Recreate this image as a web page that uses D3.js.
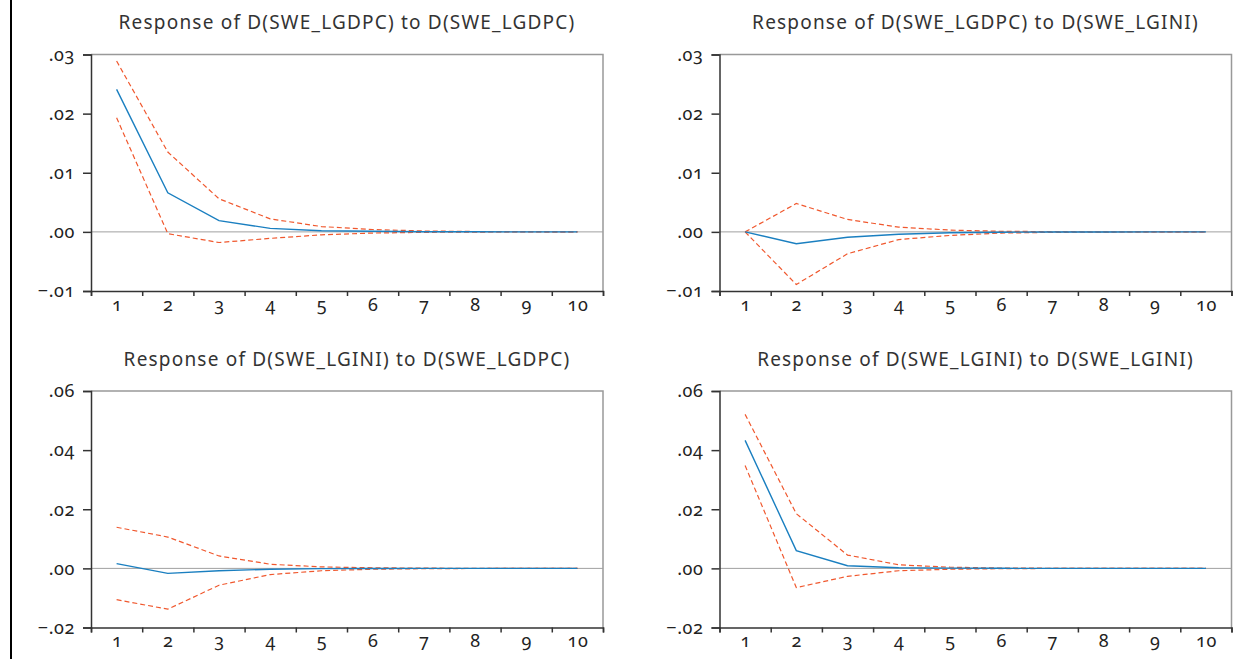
<!DOCTYPE html>
<html>
<head>
<meta charset="utf-8">
<script src="https://cdn.jsdelivr.net/npm/d3@7"></script>
<style>
    body { margin: 0; background: #fff; }
    svg text { font-family: "Noto Sans", sans-serif; font-variant-numeric: oldstyle-nums; fill: #222; }
</style>
</head>
<body>
<script>
const width = 1248;
const height = 659;

const periods = [1, 2, 3, 4, 5, 6, 7, 8, 9, 10];

const titles = [
    "Response of D(SWE_LGDPC) to D(SWE_LGDPC)",
    "Response of D(SWE_LGDPC) to D(SWE_LGINI)",
    "Response of D(SWE_LGINI) to D(SWE_LGDPC)",
    "Response of D(SWE_LGINI) to D(SWE_LGINI)"
];

const yTicksTop = [-0.01, 0.00, 0.01, 0.02, 0.03];
const yTicksBottom = [-0.02, 0.00, 0.02, 0.04, 0.06];

// GDPC -> GDPC
const resp1 = [0.0241, 0.0066, 0.0019, 0.0006, 0.0002, 0.0001, 0.00003, 0.00001, 0, 0];
const upper1 = [0.0289, 0.0135, 0.0056, 0.0022, 0.0009, 0.0004, 0.00015, 0.00006, 0.00002, 0.00001];
const lower1 = [0.0193, -0.0003, -0.0018, -0.0011, -0.0005, -0.0002, -0.00008, -0.00003, -0.00001, 0];

// GDPC -> GINI
const resp2 = [0, -0.0020, -0.0009, -0.0004, -0.00015, -0.00006, -0.00002, -0.00001, 0, 0];
const upper2 = [0, 0.0048, 0.0021, 0.0008, 0.0003, 0.0001, 0.00004, 0.00001, 0, 0];
const lower2 = [0, -0.0089, -0.0037, -0.0013, -0.0006, -0.0002, -0.00008, -0.00003, -0.00001, 0];

// GINI -> GDPC
const resp3 = [0.0016, -0.0017, -0.0008, -0.0003, -0.0001, -0.00004, -0.00001, 0, 0, 0];
const upper3 = [0.0139, 0.0106, 0.0042, 0.0014, 0.0005, 0.0002, 0.00007, 0.00002, 0.00001, 0];
const lower3 = [-0.0106, -0.0138, -0.0057, -0.0021, -0.0008, -0.0003, -0.0001, -0.00004, -0.00001, 0];

// GINI -> GINI
const resp4 = [0.0433, 0.0060, 0.0009, 0.0002, 0.0001, 0.00002, 0, 0, 0, 0];
const upper4 = [0.0521, 0.0185, 0.0045, 0.0012, 0.0004, 0.0001, 0.00004, 0.00001, 0, 0];
const lower4 = [0.0348, -0.0065, -0.0027, -0.0008, -0.0003, -0.0001, -0.00003, -0.00001, 0, 0];

const panels = [
    {title: titles[0], resp: resp1, upper: upper1, lower: lower1, ticks: yTicksTop, left: 91, top: 54.5, bottom: 291},
    {title: titles[1], resp: resp2, upper: upper2, lower: lower2, ticks: yTicksTop, left: 719.5, top: 54.5, bottom: 291},
    {title: titles[2], resp: resp3, upper: upper3, lower: lower3, ticks: yTicksBottom, left: 91, top: 391, bottom: 627.5},
    {title: titles[3], resp: resp4, upper: upper4, lower: lower4, ticks: yTicksBottom, left: 719.5, top: 391, bottom: 627.5}
];

const plotW = 512;

const svg = d3.select("body")
    .append("svg")
    .attr("width", width)
    .attr("height", height);

// black bar on the left edge
svg.append("rect")
    .attr("x", 10)
    .attr("y", 0)
    .attr("width", 2)
    .attr("height", height)
    .attr("fill", "#000");

const fmt = v => d3.format(".2f")(v).replace("0.", ".");

panels.forEach(p => {
    const h = p.bottom - p.top;
    const g = svg.append("g")
        .attr("transform", `translate(${p.left},${p.top})`);

    const x = d3.scaleLinear().domain([0.5, 10.5]).range([0, plotW]);
    const y = d3.scaleLinear().domain(d3.extent(p.ticks)).range([h, 0]);

    // top and right frame
    g.append("path")
        .attr("d", `M0,0H${plotW}V${h}`)
        .attr("fill", "none")
        .attr("stroke", "#999")
        .attr("stroke-width", 1.5);

    // zero line
    g.append("line")
        .attr("x1", 0).attr("x2", plotW)
        .attr("y1", y(0)).attr("y2", y(0))
        .attr("stroke", "#a0a0a0")
        .attr("stroke-width", 1);

    // y axis
    const yAxis = g.append("g")
        .call(d3.axisLeft(y).tickValues(p.ticks).tickSize(8).tickPadding(8).tickFormat(fmt));
    yAxis.selectAll("text")
        .style("font-size", "18px")
        .style("letter-spacing", "0.6px");

    // x boundary ticks
    g.append("g")
        .attr("transform", `translate(0,${h})`)
        .call(d3.axisBottom(x).tickValues(d3.range(0.5, 11, 1)).tickSize(5).tickFormat(""));

    // x labels
    const xLab = g.append("g")
        .attr("transform", `translate(0,${h})`)
        .call(d3.axisBottom(x).tickValues(periods).tickSize(0).tickPadding(7));
    xLab.select(".domain").remove();
    xLab.selectAll("text")
        .style("font-size", "18px")
        .style("letter-spacing", "0.6px");

    g.selectAll(".domain, .tick line")
        .attr("stroke", "#333")
        .attr("stroke-width", 1.5);

    const line = d3.line()
        .x((d, i) => x(periods[i]))
        .y(d => y(d));

    [p.upper, p.lower].forEach(band => {
        g.append("path")
            .attr("d", line(band))
            .attr("fill", "none")
            .attr("stroke", "#f0582e")
            .attr("stroke-width", 1.2)
            .attr("stroke-dasharray", "5,3");
    });

    g.append("path")
        .attr("d", line(p.resp))
        .attr("fill", "none")
        .attr("stroke", "#1a7fc0")
        .attr("stroke-width", 1.4);

    svg.append("text")
        .attr("x", p.left + plotW / 2)
        .attr("y", p.top - 25.5)
        .attr("text-anchor", "middle")
        .style("font-size", "19px")
        .style("letter-spacing", "1.2px")
        .style("fill", "#333")
        .text(p.title);
});
</script>
</body>
</html>
